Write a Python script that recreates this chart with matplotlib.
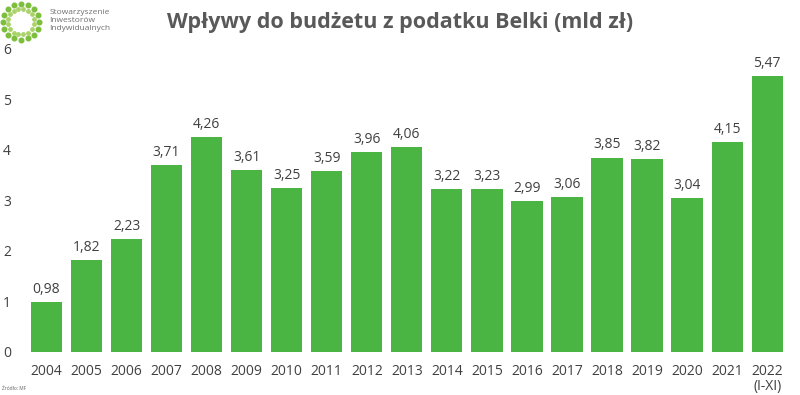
from matplotlib import pyplot as plt
import numpy as np

years = ["2004", "2005", "2006", "2007", "2008", "2009", "2010", "2011", "2012",
         "2013", "2014", "2015", "2016", "2017", "2018", "2019", "2020", "2021",
         "2022\n(I-XI)"]
values = [0.98, 1.82, 2.23, 3.71, 4.26, 3.61, 3.25, 3.59, 3.96,
          4.06, 3.22, 3.23, 2.99, 3.06, 3.85, 3.82, 3.04, 4.15, 5.47]
labels = ["0,98", "1,82", "2,23", "3,71", "4,26", "3,61", "3,25", "3,59", "3,96",
          "4,06", "3,22", "3,23", "2,99", "3,06", "3,85", "3,82", "3,04", "4,15", "5,47"]

plt.rcParams['font.family'] = ['Open Sans', 'DejaVu Sans']

fig = plt.figure(figsize=(8, 3.95), dpi=100)
ax = fig.add_axes([0.033, 0.109, 0.951, 0.767])

x = np.arange(len(values))
ax.bar(x, values, width=0.78, color="#4BB543")
for xi, v, t in zip(x, values, labels):
    ax.text(xi, v + 0.1, t, ha="center", va="bottom", fontsize=10, color="#404040")

ax.set_xlim(-0.5, len(values) - 0.5)
ax.set_ylim(0, 6)
ax.set_yticks(range(7))
ax.set_xticks(x)
ax.set_xticklabels(years, linespacing=1.0)
ax.tick_params(length=0, labelsize=10, labelcolor="#404040")
ax.tick_params(axis="y", pad=11)
ax.tick_params(axis="x", pad=9)
for s in ax.spines.values():
    s.set_visible(False)

fig.text(0.5, 0.943, "Wpływy do budżetu z podatku Belki (mld zł)", ha="center",
         va="center", fontsize=15.5, fontweight="bold", color="#595959")

# logo
lax = fig.add_axes([0.0, 0.89, 0.052, 0.11])
ang = np.linspace(0, 2 * np.pi, 16, endpoint=False)
lax.scatter(np.cos(ang), np.sin(ang), s=11, color="#7DBE3C")
ang2 = ang + np.pi / 16
lax.scatter(0.72 * np.cos(ang2), 0.72 * np.sin(ang2), s=6, color="#A9D36A")
lax.set_xlim(-1.15, 1.15)
lax.set_ylim(-1.15, 1.15)
lax.set_aspect("equal")
lax.axis("off")
fig.text(0.062, 0.948, "Stowarzyszenie\nInwestorów\nIndywidualnych", ha="left",
         va="center", fontsize=6, color="#707070", linespacing=1.15)

fig.text(0.003, 0.012, "Źródło: MF", fontsize=3.5, color="#606060")

fig.savefig("out.png", dpi=100)
